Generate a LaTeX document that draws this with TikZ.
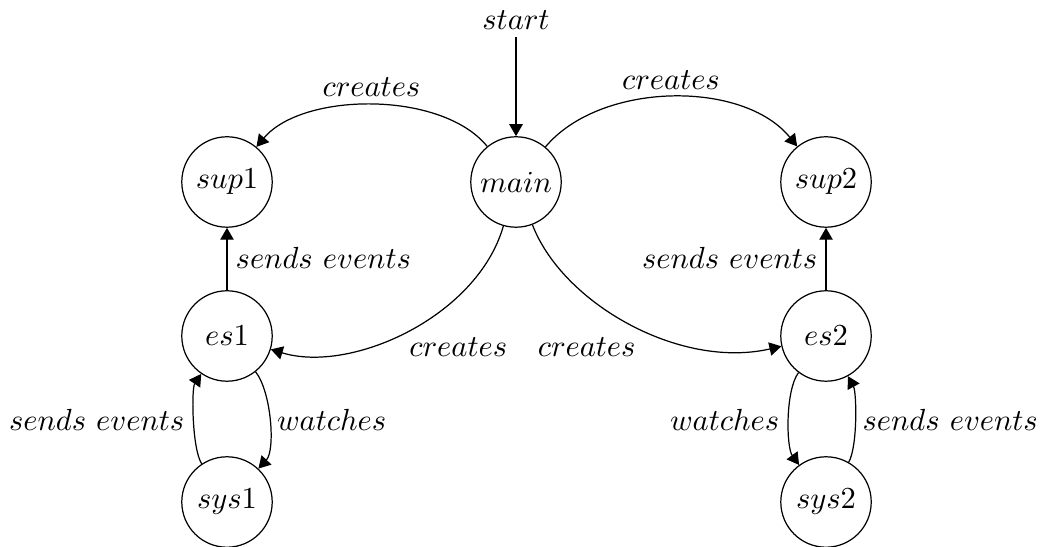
\documentclass[tikz,border=0pt]{standalone}
\usetikzlibrary{arrows.meta}
\begin{document}
\begin{tikzpicture}[
    x=0.3273pt, y=0.3273pt,
    state/.style={circle, draw, line width=0.4pt, minimum size=29.6pt, inner sep=0pt},
    lbl/.style={inner sep=0pt},
    link/.style={line width=0.4pt, -{Triangle[length=3.9pt,width=4.4pt]}}
  ]
  \useasboundingbox (0,0) rectangle (1042,-547);

  % states
  \node[state] (main) at (516,-182) {$main$};
  \node[state] (sup1) at (227,-182) {$sup1$};
  \node[state] (sup2) at (826,-182) {$sup2$};
  \node[state] (es1)  at (227,-336) {$es1$};
  \node[state] (es2)  at (826,-336) {$es2$};
  \node[state] (sys1) at (227,-502) {$sys1$};
  \node[state] (sys2) at (826,-502) {$sys2$};
  \node[inner sep=2.2pt] (start) at (516,-20.6) {$start$};

  % edge labels
  \node[lbl] (c1) at (371.5,-87.5)  {$creates$};
  \node[lbl] (c2) at (671,-80.6)    {$creates$};
  \node[lbl] (c3) at (458.3,-347.3) {$creates$};
  \node[lbl] (c4) at (586.7,-347.3) {$creates$};
  \node[lbl] (se1) at (323.4,-257.7) {$sends\ events$};
  \node[lbl] (se2) at (729.7,-257.7) {$sends\ events$};
  \node[lbl] (se3) at (96.7,-419.4)  {$sends\ events$};
  \node[lbl] (se4) at (950.3,-419.4) {$sends\ events$};
  \node[lbl] (w1) at (331.7,-419.4) {$watches$};
  \node[lbl] (w2) at (724.7,-419.4) {$watches$};

  % connectors
  \draw[link] (start) -- (main);
  \draw[link] (main) .. controls +(129:117.7) and +(50:117.7) .. (sup1);
  \draw[link] (main) .. controls +(50:131.5) and +(129:131.5) .. (sup2);
  \draw[link] (main) .. controls +(254:140) and +(-17:130) .. (es1);
  \draw[link] (main) .. controls +(-69:130) and +(193:150) .. (es2);
  \draw[link] (es1) -- (sup1);
  \draw[link] (es2) -- (sup2);
  \draw[link] (es1) .. controls +(-51.4:71) and +(46.8:71) .. (sys1);
  \draw[link] (sys1) .. controls +(123.5:63.4) and +(235.8:63.4) .. (es1);
  \draw[link] (es2) .. controls +(233.1:67.8) and +(126:67.8) .. (sys2);
  \draw[link] (sys2) .. controls +(60.3:64) and +(-61.4:64) .. (es2);
\end{tikzpicture}
\end{document}
